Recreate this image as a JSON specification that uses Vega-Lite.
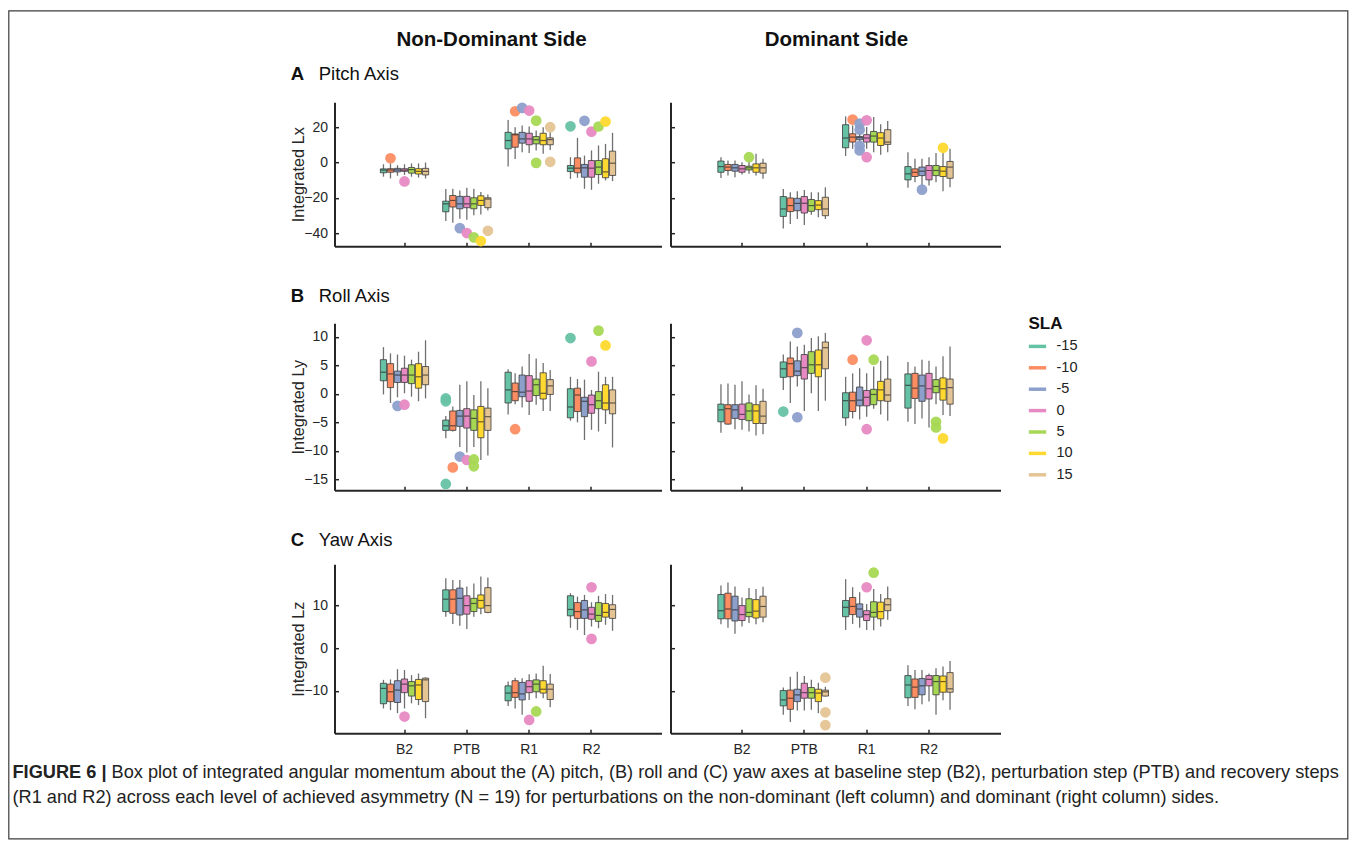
{
"$schema": "https://vega.github.io/schema/vega-lite/v6.json",
"padding": {"left": 7.5, "top": 9.5, "right": 0, "bottom": 0},
"background": "white",
"datasets": {
"box": [
{"a":"Lx","s":"ND","g":"B2","sla":-15,"lo":-8,"q1":-5.8,"md":-4.3,"q3":-3.6,"hi":-1},
{"a":"Lx","s":"ND","g":"B2","sla":-10,"lo":-9,"q1":-5.5,"md":-4.2,"q3":-3.5,"hi":-0.5},
{"a":"Lx","s":"ND","g":"B2","sla":-5,"lo":-7.5,"q1":-5.3,"md":-4.2,"q3":-3.3,"hi":-1.5},
{"a":"Lx","s":"ND","g":"B2","sla":0,"lo":-7,"q1":-5,"md":-4.3,"q3":-3.5,"hi":-1},
{"a":"Lx","s":"ND","g":"B2","sla":5,"lo":-8,"q1":-6,"md":-4,"q3":-2.8,"hi":-0.5},
{"a":"Lx","s":"ND","g":"B2","sla":10,"lo":-8.5,"q1":-6.5,"md":-5,"q3":-3.5,"hi":-0.5},
{"a":"Lx","s":"ND","g":"B2","sla":15,"lo":-9,"q1":-7,"md":-5,"q3":-3.3,"hi":0},
{"a":"Lx","s":"ND","g":"PTB","sla":-15,"lo":-33,"q1":-27.8,"md":-23.3,"q3":-21.8,"hi":-15},
{"a":"Lx","s":"ND","g":"PTB","sla":-10,"lo":-34,"q1":-25.1,"md":-21.4,"q3":-18.6,"hi":-14.8},
{"a":"Lx","s":"ND","g":"PTB","sla":-5,"lo":-31.7,"q1":-26.1,"md":-23.3,"q3":-19.1,"hi":-15.8},
{"a":"Lx","s":"ND","g":"PTB","sla":0,"lo":-32.3,"q1":-25.5,"md":-23.3,"q3":-19.1,"hi":-14.3},
{"a":"Lx","s":"ND","g":"PTB","sla":5,"lo":-29.8,"q1":-26.1,"md":-23.3,"q3":-19.9,"hi":-14.8},
{"a":"Lx","s":"ND","g":"PTB","sla":10,"lo":-29.3,"q1":-24.2,"md":-21.4,"q3":-18.8,"hi":-16.7},
{"a":"Lx","s":"ND","g":"PTB","sla":15,"lo":-27,"q1":-25.5,"md":-20.6,"q3":-19.9,"hi":-18},
{"a":"Lx","s":"ND","g":"R1","sla":-15,"lo":-2.3,"q1":7.7,"md":12.4,"q3":17,"hi":24},
{"a":"Lx","s":"ND","g":"R1","sla":-10,"lo":2,"q1":8.6,"md":15.6,"q3":16.1,"hi":19.9},
{"a":"Lx","s":"ND","g":"R1","sla":-5,"lo":5.8,"q1":10.9,"md":13.3,"q3":17,"hi":20.8},
{"a":"Lx","s":"ND","g":"R1","sla":0,"lo":5.3,"q1":10,"md":13.3,"q3":16.5,"hi":20.3},
{"a":"Lx","s":"ND","g":"R1","sla":5,"lo":6.8,"q1":10.5,"md":12.8,"q3":14.6,"hi":18},
{"a":"Lx","s":"ND","g":"R1","sla":10,"lo":4.9,"q1":10,"md":12.4,"q3":16.5,"hi":19.9},
{"a":"Lx","s":"ND","g":"R1","sla":15,"lo":7.1,"q1":10,"md":12.9,"q3":13.9,"hi":17},
{"a":"Lx","s":"ND","g":"R2","sla":-15,"lo":-9.2,"q1":-5.1,"md":-3.2,"q3":-1.7,"hi":3},
{"a":"Lx","s":"ND","g":"R2","sla":-10,"lo":-8.6,"q1":-5.8,"md":-3.2,"q3":2.6,"hi":13.9},
{"a":"Lx","s":"ND","g":"R2","sla":-5,"lo":-14.8,"q1":-8.3,"md":-3,"q3":-1.1,"hi":3.9},
{"a":"Lx","s":"ND","g":"R2","sla":0,"lo":-15.4,"q1":-8.3,"md":-3.2,"q3":1.1,"hi":6.8},
{"a":"Lx","s":"ND","g":"R2","sla":5,"lo":-12,"q1":-6.8,"md":-2.6,"q3":1.1,"hi":9.6},
{"a":"Lx","s":"ND","g":"R2","sla":10,"lo":-10.1,"q1":-8.6,"md":-5.3,"q3":2.1,"hi":10.5},
{"a":"Lx","s":"ND","g":"R2","sla":15,"lo":-10.5,"q1":-7.3,"md":-0.4,"q3":6.4,"hi":16.7},
{"a":"Lx","s":"D","g":"B2","sla":-15,"lo":-8.7,"q1":-5.5,"md":-2.3,"q3":0.8,"hi":3},
{"a":"Lx","s":"D","g":"B2","sla":-10,"lo":-7.4,"q1":-4.5,"md":-2.6,"q3":-1.1,"hi":1.1},
{"a":"Lx","s":"D","g":"B2","sla":-5,"lo":-8.3,"q1":-4.9,"md":-3,"q3":-1.1,"hi":1.1},
{"a":"Lx","s":"D","g":"B2","sla":0,"lo":-6.8,"q1":-5.5,"md":-3.6,"q3":-1.7,"hi":0.2},
{"a":"Lx","s":"D","g":"B2","sla":5,"lo":-6.4,"q1":-4.2,"md":-3,"q3":-2.1,"hi":0.6},
{"a":"Lx","s":"D","g":"B2","sla":10,"lo":-7.4,"q1":-5.5,"md":-3,"q3":-0.8,"hi":4.9},
{"a":"Lx","s":"D","g":"B2","sla":15,"lo":-9.2,"q1":-6,"md":-3,"q3":-0.4,"hi":2.1},
{"a":"Lx","s":"D","g":"PTB","sla":-15,"lo":-37.2,"q1":-30.4,"md":-26.2,"q3":-19.2,"hi":-14.9},
{"a":"Lx","s":"D","g":"PTB","sla":-10,"lo":-34.7,"q1":-27.7,"md":-24.3,"q3":-20,"hi":-16.8},
{"a":"Lx","s":"D","g":"PTB","sla":-5,"lo":-31.9,"q1":-27.2,"md":-23,"q3":-20.2,"hi":-16.2},
{"a":"Lx","s":"D","g":"PTB","sla":0,"lo":-35.3,"q1":-28.5,"md":-23,"q3":-19.2,"hi":-15.5},
{"a":"Lx","s":"D","g":"PTB","sla":5,"lo":-29.4,"q1":-27.5,"md":-24.3,"q3":-20.9,"hi":-16.8},
{"a":"Lx","s":"D","g":"PTB","sla":10,"lo":-30.9,"q1":-26.6,"md":-24,"q3":-21.5,"hi":-16.8},
{"a":"Lx","s":"D","g":"PTB","sla":15,"lo":-31.9,"q1":-30,"md":-26.2,"q3":-19.6,"hi":-14},
{"a":"Lx","s":"D","g":"R1","sla":-15,"lo":3.6,"q1":8.3,"md":13.8,"q3":21.3,"hi":26},
{"a":"Lx","s":"D","g":"R1","sla":-10,"lo":7.7,"q1":11.5,"md":14.3,"q3":16.2,"hi":20.9},
{"a":"Lx","s":"D","g":"R1","sla":-5,"lo":10.6,"q1":12.8,"md":14,"q3":14.7,"hi":17.2},
{"a":"Lx","s":"D","g":"R1","sla":0,"lo":7.7,"q1":11.5,"md":13.8,"q3":15.7,"hi":20},
{"a":"Lx","s":"D","g":"R1","sla":5,"lo":5.8,"q1":11.5,"md":14.9,"q3":17.5,"hi":25.7},
{"a":"Lx","s":"D","g":"R1","sla":10,"lo":4.3,"q1":9.6,"md":13.8,"q3":16.8,"hi":21.5},
{"a":"Lx","s":"D","g":"R1","sla":15,"lo":5.8,"q1":10.2,"md":11.5,"q3":18.5,"hi":23.4},
{"a":"Lx","s":"D","g":"R2","sla":-15,"lo":-14.3,"q1":-9.8,"md":-6.4,"q3":-2.3,"hi":5.8},
{"a":"Lx","s":"D","g":"R2","sla":-10,"lo":-11.1,"q1":-7.9,"md":-5.5,"q3":-3.6,"hi":2.1},
{"a":"Lx","s":"D","g":"R2","sla":-5,"lo":-13.6,"q1":-7.4,"md":-4.9,"q3":-2.6,"hi":2.1},
{"a":"Lx","s":"D","g":"R2","sla":0,"lo":-13,"q1":-9.8,"md":-4.5,"q3":-1.7,"hi":3},
{"a":"Lx","s":"D","g":"R2","sla":5,"lo":-11.1,"q1":-7.4,"md":-4.5,"q3":-1.7,"hi":5.3},
{"a":"Lx","s":"D","g":"R2","sla":10,"lo":-16.2,"q1":-7.9,"md":-4.9,"q3":-2.3,"hi":5.3},
{"a":"Lx","s":"D","g":"R2","sla":15,"lo":-14,"q1":-8.9,"md":-2.6,"q3":0.6,"hi":7.7},
{"a":"Ly","s":"ND","g":"B2","sla":-15,"lo":-0.1,"q1":2.3,"md":3.8,"q3":6,"hi":8.2},
{"a":"Ly","s":"ND","g":"B2","sla":-10,"lo":-1.6,"q1":1.1,"md":3.5,"q3":5.3,"hi":7.1},
{"a":"Ly","s":"ND","g":"B2","sla":-5,"lo":-0.6,"q1":2,"md":3.3,"q3":4,"hi":6.9},
{"a":"Ly","s":"ND","g":"B2","sla":0,"lo":0.1,"q1":2,"md":3.3,"q3":4.5,"hi":6.7},
{"a":"Ly","s":"ND","g":"B2","sla":5,"lo":-0.5,"q1":1.8,"md":3.3,"q3":5.1,"hi":6},
{"a":"Ly","s":"ND","g":"B2","sla":10,"lo":-1.3,"q1":1,"md":3,"q3":5.3,"hi":7.4},
{"a":"Ly","s":"ND","g":"B2","sla":15,"lo":-0.8,"q1":1.6,"md":3.3,"q3":4.8,"hi":9.4},
{"a":"Ly","s":"ND","g":"PTB","sla":-15,"lo":-7.8,"q1":-6.4,"md":-5.6,"q3":-4.6,"hi":-3.9},
{"a":"Ly","s":"ND","g":"PTB","sla":-10,"lo":-6.6,"q1":-6.4,"md":-5.6,"q3":-3,"hi":-2.2},
{"a":"Ly","s":"ND","g":"PTB","sla":-5,"lo":-9.3,"q1":-5.7,"md":-3.9,"q3":-2.9,"hi":1.6},
{"a":"Ly","s":"ND","g":"PTB","sla":0,"lo":-10.3,"q1":-6,"md":-3.9,"q3":-2.6,"hi":2.2},
{"a":"Ly","s":"ND","g":"PTB","sla":5,"lo":-9.3,"q1":-6.4,"md":-4.3,"q3":-2.8,"hi":-0.2},
{"a":"Ly","s":"ND","g":"PTB","sla":10,"lo":-11.6,"q1":-7.7,"md":-4.9,"q3":-2.2,"hi":2.2},
{"a":"Ly","s":"ND","g":"PTB","sla":15,"lo":-10.8,"q1":-6.4,"md":-4,"q3":-2.5,"hi":1},
{"a":"Ly","s":"ND","g":"R1","sla":-15,"lo":-3.6,"q1":-1.6,"md":0.7,"q3":3.8,"hi":4.3},
{"a":"Ly","s":"ND","g":"R1","sla":-10,"lo":-1.8,"q1":-1.2,"md":0.4,"q3":1.9,"hi":3.6},
{"a":"Ly","s":"ND","g":"R1","sla":-5,"lo":-2.4,"q1":-0.5,"md":0.3,"q3":3.3,"hi":4.8},
{"a":"Ly","s":"ND","g":"R1","sla":0,"lo":-3.7,"q1":-1.3,"md":0.5,"q3":3.2,"hi":7},
{"a":"Ly","s":"ND","g":"R1","sla":5,"lo":-1.9,"q1":-0.3,"md":1.6,"q3":2.6,"hi":6.2},
{"a":"Ly","s":"ND","g":"R1","sla":10,"lo":-3,"q1":-0.9,"md":0.1,"q3":3.7,"hi":5.4},
{"a":"Ly","s":"ND","g":"R1","sla":15,"lo":-3,"q1":-0.1,"md":1.4,"q3":2.5,"hi":4.2},
{"a":"Ly","s":"ND","g":"R2","sla":-15,"lo":-4.7,"q1":-4.2,"md":-2.3,"q3":0.9,"hi":3},
{"a":"Ly","s":"ND","g":"R2","sla":-10,"lo":-5,"q1":-3.1,"md":-0.2,"q3":1,"hi":2.6},
{"a":"Ly","s":"ND","g":"R2","sla":-5,"lo":-8.1,"q1":-4,"md":-1.3,"q3":-0.6,"hi":2.5},
{"a":"Ly","s":"ND","g":"R2","sla":0,"lo":-6.3,"q1":-3.4,"md":-1.9,"q3":-0.2,"hi":0.7},
{"a":"Ly","s":"ND","g":"R2","sla":5,"lo":-6.6,"q1":-2.6,"md":-1.2,"q3":0.4,"hi":3.9},
{"a":"Ly","s":"ND","g":"R2","sla":10,"lo":-5.3,"q1":-2.8,"md":-1.6,"q3":1.6,"hi":3},
{"a":"Ly","s":"ND","g":"R2","sla":15,"lo":-9.4,"q1":-3.5,"md":-1.6,"q3":0.7,"hi":3},
{"a":"Ly","s":"D","g":"B2","sla":-15,"lo":-6.8,"q1":-4.9,"md":-2.8,"q3":-1.8,"hi":1.7},
{"a":"Ly","s":"D","g":"B2","sla":-10,"lo":-5.4,"q1":-5.3,"md":-2.6,"q3":-1.9,"hi":1.8},
{"a":"Ly","s":"D","g":"B2","sla":-5,"lo":-6.2,"q1":-4.3,"md":-2.8,"q3":-1.9,"hi":1.6},
{"a":"Ly","s":"D","g":"B2","sla":0,"lo":-6.3,"q1":-4.5,"md":-3.6,"q3":-1.8,"hi":2.2},
{"a":"Ly","s":"D","g":"B2","sla":5,"lo":-6.6,"q1":-4.7,"md":-3,"q3":-1.6,"hi":-0.1},
{"a":"Ly","s":"D","g":"B2","sla":10,"lo":-7.3,"q1":-5.2,"md":-3,"q3":-1.9,"hi":1.5},
{"a":"Ly","s":"D","g":"B2","sla":15,"lo":-7.1,"q1":-5.2,"md":-3.9,"q3":-1.3,"hi":0.9},
{"a":"Ly","s":"D","g":"PTB","sla":-15,"lo":0.7,"q1":2.9,"md":4.4,"q3":5.6,"hi":6.9},
{"a":"Ly","s":"D","g":"PTB","sla":-10,"lo":-1.6,"q1":3,"md":5.3,"q3":6.3,"hi":9.2},
{"a":"Ly","s":"D","g":"PTB","sla":-5,"lo":1.3,"q1":3.2,"md":4,"q3":5.8,"hi":8.3},
{"a":"Ly","s":"D","g":"PTB","sla":0,"lo":-3,"q1":2.6,"md":4.6,"q3":6.9,"hi":8.6},
{"a":"Ly","s":"D","g":"PTB","sla":5,"lo":0.1,"q1":3.6,"md":5.1,"q3":7.4,"hi":9.8},
{"a":"Ly","s":"D","g":"PTB","sla":10,"lo":-3,"q1":3,"md":5.1,"q3":7.7,"hi":10.1},
{"a":"Ly","s":"D","g":"PTB","sla":15,"lo":-1.2,"q1":4.4,"md":8.1,"q3":9.1,"hi":10.7},
{"a":"Ly","s":"D","g":"R1","sla":-15,"lo":-5.6,"q1":-4.2,"md":-1.2,"q3":0.2,"hi":3},
{"a":"Ly","s":"D","g":"R1","sla":-10,"lo":-4.3,"q1":-3.1,"md":-1.2,"q3":0.3,"hi":3.6},
{"a":"Ly","s":"D","g":"R1","sla":-5,"lo":-4.5,"q1":-2.1,"md":-1.1,"q3":1.2,"hi":4.5},
{"a":"Ly","s":"D","g":"R1","sla":0,"lo":-4,"q1":-2.1,"md":-0.6,"q3":0.6,"hi":3.6},
{"a":"Ly","s":"D","g":"R1","sla":5,"lo":-2.6,"q1":-1.9,"md":-0.1,"q3":0.8,"hi":4.8},
{"a":"Ly","s":"D","g":"R1","sla":10,"lo":-3.6,"q1":-1.2,"md":0.7,"q3":2.2,"hi":5.8},
{"a":"Ly","s":"D","g":"R1","sla":15,"lo":-4.7,"q1":-1.3,"md":-0.2,"q3":2.6,"hi":6.7},
{"a":"Ly","s":"D","g":"R2","sla":-15,"lo":-4.9,"q1":-2.5,"md":1.5,"q3":3.5,"hi":5.6},
{"a":"Ly","s":"D","g":"R2","sla":-10,"lo":-5.3,"q1":-0.8,"md":1,"q3":3.6,"hi":4.8},
{"a":"Ly","s":"D","g":"R2","sla":-5,"lo":-4.3,"q1":-1.3,"md":1.4,"q3":3.3,"hi":6},
{"a":"Ly","s":"D","g":"R2","sla":0,"lo":-5.9,"q1":-0.9,"md":0.9,"q3":3.6,"hi":5.8},
{"a":"Ly","s":"D","g":"R2","sla":5,"lo":-1.8,"q1":0.2,"md":1.3,"q3":2.5,"hi":4.8},
{"a":"Ly","s":"D","g":"R2","sla":10,"lo":-3.7,"q1":-1.1,"md":0.9,"q3":2.8,"hi":6.6},
{"a":"Ly","s":"D","g":"R2","sla":15,"lo":-3.9,"q1":-1.8,"md":1.1,"q3":2.6,"hi":8.3},
{"a":"Lz","s":"ND","g":"B2","sla":-15,"lo":-14.1,"q1":-13,"md":-9.4,"q3":-8.2,"hi":-7.4},
{"a":"Lz","s":"ND","g":"B2","sla":-10,"lo":-14.5,"q1":-12.5,"md":-10.2,"q3":-8.4,"hi":-7.3},
{"a":"Lz","s":"ND","g":"B2","sla":-5,"lo":-15.2,"q1":-12.7,"md":-9.8,"q3":-7.6,"hi":-4.9},
{"a":"Lz","s":"ND","g":"B2","sla":0,"lo":-14.1,"q1":-10.4,"md":-8.4,"q3":-7.2,"hi":-5.1},
{"a":"Lz","s":"ND","g":"B2","sla":5,"lo":-12.9,"q1":-11.2,"md":-8.8,"q3":-7.8,"hi":-6.3},
{"a":"Lz","s":"ND","g":"B2","sla":10,"lo":-13.3,"q1":-12,"md":-8.6,"q3":-7.3,"hi":-5.9},
{"a":"Lz","s":"ND","g":"B2","sla":15,"lo":-16.4,"q1":-12.5,"md":-7.4,"q3":-7,"hi":-6.8},
{"a":"Lz","s":"ND","g":"PTB","sla":-15,"lo":7.4,"q1":8.6,"md":11.5,"q3":13.7,"hi":16.4},
{"a":"Lz","s":"ND","g":"PTB","sla":-10,"lo":5.7,"q1":8.2,"md":11.5,"q3":13.7,"hi":16},
{"a":"Lz","s":"ND","g":"PTB","sla":-5,"lo":5.3,"q1":7.8,"md":11.7,"q3":14.1,"hi":16},
{"a":"Lz","s":"ND","g":"PTB","sla":0,"lo":4.5,"q1":8,"md":10,"q3":12.3,"hi":14.5},
{"a":"Lz","s":"ND","g":"PTB","sla":5,"lo":7.4,"q1":8.6,"md":10.5,"q3":11.7,"hi":15.2},
{"a":"Lz","s":"ND","g":"PTB","sla":10,"lo":8,"q1":9.4,"md":11.2,"q3":12.5,"hi":16.8},
{"a":"Lz","s":"ND","g":"PTB","sla":15,"lo":8.2,"q1":8.4,"md":10,"q3":14.2,"hi":16.6},
{"a":"Lz","s":"ND","g":"R1","sla":-15,"lo":-13.5,"q1":-12.3,"md":-10.5,"q3":-8.8,"hi":-7.8},
{"a":"Lz","s":"ND","g":"R1","sla":-10,"lo":-14.1,"q1":-11.5,"md":-10.4,"q3":-7.6,"hi":-6.9},
{"a":"Lz","s":"ND","g":"R1","sla":-5,"lo":-15.6,"q1":-12.1,"md":-10.7,"q3":-8,"hi":-7},
{"a":"Lz","s":"ND","g":"R1","sla":0,"lo":-12.1,"q1":-10.4,"md":-9,"q3":-7.6,"hi":-6.1},
{"a":"Lz","s":"ND","g":"R1","sla":5,"lo":-11.7,"q1":-10.2,"md":-8.4,"q3":-7.4,"hi":-5.9},
{"a":"Lz","s":"ND","g":"R1","sla":10,"lo":-11.7,"q1":-10.5,"md":-9.6,"q3":-7.6,"hi":-4.1},
{"a":"Lz","s":"ND","g":"R1","sla":15,"lo":-13.8,"q1":-12,"md":-9.6,"q3":-8.4,"hi":-6},
{"a":"Lz","s":"ND","g":"R2","sla":-15,"lo":4.8,"q1":7.6,"md":9.1,"q3":12.3,"hi":12.9},
{"a":"Lz","s":"ND","g":"R2","sla":-10,"lo":4.3,"q1":7,"md":8.6,"q3":10.7,"hi":12.1},
{"a":"Lz","s":"ND","g":"R2","sla":-5,"lo":3.1,"q1":7,"md":9,"q3":11.2,"hi":12.5},
{"a":"Lz","s":"ND","g":"R2","sla":0,"lo":5.1,"q1":6.8,"md":8,"q3":9.6,"hi":10.8},
{"a":"Lz","s":"ND","g":"R2","sla":5,"lo":4.7,"q1":6.3,"md":7.7,"q3":10.7,"hi":12.3},
{"a":"Lz","s":"ND","g":"R2","sla":10,"lo":5.5,"q1":7.3,"md":8.4,"q3":10.5,"hi":12.7},
{"a":"Lz","s":"ND","g":"R2","sla":15,"lo":4.1,"q1":7,"md":9.1,"q3":10.2,"hi":12.5},
{"a":"Lz","s":"D","g":"B2","sla":-15,"lo":5.6,"q1":6.9,"md":8.8,"q3":12.6,"hi":14.7},
{"a":"Lz","s":"D","g":"B2","sla":-10,"lo":4.8,"q1":6.9,"md":9.2,"q3":12.9,"hi":15.4},
{"a":"Lz","s":"D","g":"B2","sla":-5,"lo":3.4,"q1":6.4,"md":9,"q3":12.2,"hi":14.5},
{"a":"Lz","s":"D","g":"B2","sla":0,"lo":5.1,"q1":6.5,"md":7.9,"q3":10,"hi":11.9},
{"a":"Lz","s":"D","g":"B2","sla":5,"lo":5.9,"q1":7.4,"md":8.4,"q3":11.6,"hi":14.1},
{"a":"Lz","s":"D","g":"B2","sla":10,"lo":5.6,"q1":7.1,"md":8.7,"q3":11.4,"hi":13.9},
{"a":"Lz","s":"D","g":"B2","sla":15,"lo":6.1,"q1":7.3,"md":9.8,"q3":12.2,"hi":14.4},
{"a":"Lz","s":"D","g":"PTB","sla":-15,"lo":-15.6,"q1":-13.5,"md":-12.1,"q3":-9.9,"hi":-9.2},
{"a":"Lz","s":"D","g":"PTB","sla":-10,"lo":-17.3,"q1":-14.3,"md":-11.7,"q3":-9.8,"hi":-6.7},
{"a":"Lz","s":"D","g":"PTB","sla":-5,"lo":-14.6,"q1":-12.5,"md":-10.9,"q3":-9.6,"hi":-5.5},
{"a":"Lz","s":"D","g":"PTB","sla":0,"lo":-14.6,"q1":-11.7,"md":-10.4,"q3":-8.2,"hi":-6.5},
{"a":"Lz","s":"D","g":"PTB","sla":5,"lo":-14.4,"q1":-11.7,"md":-10.4,"q3":-9.2,"hi":-7.4},
{"a":"Lz","s":"D","g":"PTB","sla":10,"lo":-15.2,"q1":-12.5,"md":-10.5,"q3":-9.6,"hi":-8.1},
{"a":"Lz","s":"D","g":"PTB","sla":15,"lo":-11.3,"q1":-11.2,"md":-10.2,"q3":-9.8,"hi":-9},
{"a":"Lz","s":"D","g":"R1","sla":-15,"lo":4.3,"q1":7.4,"md":9.6,"q3":11.2,"hi":16.2},
{"a":"Lz","s":"D","g":"R1","sla":-10,"lo":5.7,"q1":7.9,"md":9.8,"q3":11.9,"hi":14.3},
{"a":"Lz","s":"D","g":"R1","sla":-5,"lo":4.8,"q1":7.3,"md":9.2,"q3":10.4,"hi":13.1},
{"a":"Lz","s":"D","g":"R1","sla":0,"lo":4.3,"q1":6.5,"md":7.9,"q3":8.8,"hi":10.4},
{"a":"Lz","s":"D","g":"R1","sla":5,"lo":4.2,"q1":7.3,"md":8.4,"q3":10.9,"hi":13.9},
{"a":"Lz","s":"D","g":"R1","sla":10,"lo":5.1,"q1":6.9,"md":8.6,"q3":10.8,"hi":12.7},
{"a":"Lz","s":"D","g":"R1","sla":15,"lo":6.7,"q1":8.8,"md":10.2,"q3":11.6,"hi":14.5},
{"a":"Lz","s":"D","g":"R2","sla":-15,"lo":-13.5,"q1":-11.6,"md":-8.6,"q3":-6.4,"hi":-4},
{"a":"Lz","s":"D","g":"R2","sla":-10,"lo":-14.3,"q1":-11.5,"md":-9.1,"q3":-7.2,"hi":-5.1},
{"a":"Lz","s":"D","g":"R2","sla":-5,"lo":-13.1,"q1":-10.9,"md":-8.8,"q3":-7.1,"hi":-5.1},
{"a":"Lz","s":"D","g":"R2","sla":0,"lo":-12.5,"q1":-8.8,"md":-7.3,"q3":-6.4,"hi":-5.9},
{"a":"Lz","s":"D","g":"R2","sla":5,"lo":-15.6,"q1":-10.9,"md":-7.8,"q3":-6.4,"hi":-4.7},
{"a":"Lz","s":"D","g":"R2","sla":10,"lo":-12.2,"q1":-10.3,"md":-7.8,"q3":-6.5,"hi":-4.3},
{"a":"Lz","s":"D","g":"R2","sla":15,"lo":-14.4,"q1":-10.3,"md":-9.5,"q3":-5.7,"hi":-3}
],
"out": [
{"a":"Lx","s":"ND","g":"B2","sla":-10,"v":2.4},
{"a":"Lx","s":"ND","g":"B2","sla":0,"v":-10.7},
{"a":"Lx","s":"ND","g":"PTB","sla":-5,"v":-37},
{"a":"Lx","s":"ND","g":"PTB","sla":0,"v":-39.8},
{"a":"Lx","s":"ND","g":"PTB","sla":5,"v":-42.2},
{"a":"Lx","s":"ND","g":"PTB","sla":10,"v":-44.3},
{"a":"Lx","s":"ND","g":"PTB","sla":15,"v":-38.5},
{"a":"Lx","s":"ND","g":"R1","sla":-10,"v":28.9},
{"a":"Lx","s":"ND","g":"R1","sla":-5,"v":30.8},
{"a":"Lx","s":"ND","g":"R1","sla":0,"v":29.3},
{"a":"Lx","s":"ND","g":"R1","sla":5,"v":23.6},
{"a":"Lx","s":"ND","g":"R1","sla":5,"v":-0.2},
{"a":"Lx","s":"ND","g":"R1","sla":15,"v":19.9},
{"a":"Lx","s":"ND","g":"R1","sla":15,"v":0.4},
{"a":"Lx","s":"ND","g":"R2","sla":-15,"v":20.4},
{"a":"Lx","s":"ND","g":"R2","sla":-5,"v":23.5},
{"a":"Lx","s":"ND","g":"R2","sla":0,"v":17.4},
{"a":"Lx","s":"ND","g":"R2","sla":5,"v":20.3},
{"a":"Lx","s":"ND","g":"R2","sla":10,"v":23.1},
{"a":"Lx","s":"D","g":"B2","sla":5,"v":3},
{"a":"Lx","s":"D","g":"R1","sla":-10,"v":24.2},
{"a":"Lx","s":"D","g":"R1","sla":-5,"v":21.9},
{"a":"Lx","s":"D","g":"R1","sla":-5,"v":18.5},
{"a":"Lx","s":"D","g":"R1","sla":-5,"v":9.4},
{"a":"Lx","s":"D","g":"R1","sla":-5,"v":6.8},
{"a":"Lx","s":"D","g":"R1","sla":0,"v":23.8},
{"a":"Lx","s":"D","g":"R1","sla":0,"v":3},
{"a":"Lx","s":"D","g":"R2","sla":-5,"v":-15.3},
{"a":"Lx","s":"D","g":"R2","sla":10,"v":8.3},
{"a":"Ly","s":"ND","g":"B2","sla":-5,"v":-2.1},
{"a":"Ly","s":"ND","g":"B2","sla":0,"v":-1.9},
{"a":"Ly","s":"ND","g":"PTB","sla":-15,"v":-0.8},
{"a":"Ly","s":"ND","g":"PTB","sla":-15,"v":-1.3},
{"a":"Ly","s":"ND","g":"PTB","sla":-15,"v":-15.8},
{"a":"Ly","s":"ND","g":"PTB","sla":-10,"v":-12.9},
{"a":"Ly","s":"ND","g":"PTB","sla":-5,"v":-11},
{"a":"Ly","s":"ND","g":"PTB","sla":0,"v":-11.6},
{"a":"Ly","s":"ND","g":"PTB","sla":5,"v":-11.5},
{"a":"Ly","s":"ND","g":"PTB","sla":5,"v":-12.7},
{"a":"Ly","s":"ND","g":"R1","sla":-10,"v":-6.2},
{"a":"Ly","s":"ND","g":"R2","sla":-15,"v":9.8},
{"a":"Ly","s":"ND","g":"R2","sla":0,"v":5.7},
{"a":"Ly","s":"ND","g":"R2","sla":5,"v":11.1},
{"a":"Ly","s":"ND","g":"R2","sla":10,"v":8.5},
{"a":"Ly","s":"D","g":"PTB","sla":-15,"v":-3.1},
{"a":"Ly","s":"D","g":"PTB","sla":-5,"v":10.7},
{"a":"Ly","s":"D","g":"PTB","sla":-5,"v":-4.1},
{"a":"Ly","s":"D","g":"R1","sla":-10,"v":6},
{"a":"Ly","s":"D","g":"R1","sla":0,"v":9.4},
{"a":"Ly","s":"D","g":"R1","sla":0,"v":-6.2},
{"a":"Ly","s":"D","g":"R1","sla":5,"v":6},
{"a":"Ly","s":"D","g":"R2","sla":5,"v":-4.9},
{"a":"Ly","s":"D","g":"R2","sla":5,"v":-5.9},
{"a":"Ly","s":"D","g":"R2","sla":10,"v":-7.8},
{"a":"Lz","s":"ND","g":"B2","sla":0,"v":-16},
{"a":"Lz","s":"ND","g":"R1","sla":0,"v":-16.8},
{"a":"Lz","s":"ND","g":"R1","sla":5,"v":-14.8},
{"a":"Lz","s":"ND","g":"R2","sla":0,"v":14.3},
{"a":"Lz","s":"ND","g":"R2","sla":0,"v":2.2},
{"a":"Lz","s":"D","g":"PTB","sla":15,"v":-6.9},
{"a":"Lz","s":"D","g":"PTB","sla":15,"v":-15},
{"a":"Lz","s":"D","g":"PTB","sla":15,"v":-18},
{"a":"Lz","s":"D","g":"R1","sla":0,"v":14.3},
{"a":"Lz","s":"D","g":"R1","sla":5,"v":17.7}
]
},
"columns": 2,
"align": "none",
"spacing": {"row": -809.3, "column": -1058},
"concat": [
{
"width": 1339, "height": 828,
"view": {"stroke": "#3c3c3c", "strokeWidth": 1.2},
"data": {"values": []},
"mark": "point",
"title": {"text": "Box plot of integrated angular momentum about the (A) pitch, (B) roll and (C) yaw axes at baseline step (B2), perturbation step (PTB) and recovery steps", "orient": "bottom", "anchor": "start", "frame": "group", "dx": 103, "offset": -74.7, "fontSize": 18.2, "fontWeight": "normal", "color": "#222", "baseline": "top"}
},
{"width": 1, "height": 828, "view": {"stroke": null}, "data": {"values": []}, "mark": "point"},
{"width": 1339, "height": 1, "view": {"stroke": null}, "data": {"values": []}, "mark": "point",
 "title": {"text": "FIGURE 6 |", "subtitle": "(R1 and R2) across each level of achieved asymmetry (N = 19) for perturbations on the non-dominant (left column) and dominant (right column) sides.", "orient": "bottom", "anchor": "start", "frame": "group", "dx": 4, "offset": 732.6, "fontSize": 18.2, "fontWeight": "bold", "color": "#222", "baseline": "top", "subtitleFont": "Liberation Sans", "subtitleFontSize": 18.2, "subtitleFontWeight": "normal", "subtitleColor": "#222", "subtitlePadding": 6.8}},
{
"spacing": 39,
"vconcat": [
{
"title": {"text": "A", "anchor": "start", "frame": "bounds", "fontSize": 18.5, "fontWeight": "bold", "color": "#111", "offset": 0, "baseline": "alphabetic", "dy": 68.1},
"vconcat": [{
"title": {"text": "Pitch Axis", "anchor": "start", "frame": "bounds", "fontSize": 18.5, "fontWeight": "normal", "color": "#111", "offset": 0, "baseline": "alphabetic", "dx": 28, "dy": 68.1},
"spacing": 8,
"hconcat": [
{
"width": 327, "height": 144,
"title": {"text": "Non-Dominant Side", "fontSize": 20.5, "fontWeight": "bold", "color": "#111", "anchor": "middle", "frame": "group", "offset": 35.5, "baseline": "alphabetic", "dx": -6.5},
"encoding": {
"x": {"field": "g", "type": "nominal", "title": null, "scale": {"domain": ["B2","PTB","R1","R2"], "paddingInner": 0, "paddingOuter": 0.623}, "axis": {"labels": false}},
"xOffset": {"field": "sla", "type": "nominal", "scale": {"domain": [-15,-10,-5,0,5,10,15], "paddingInner": 0.11, "paddingOuter": 1.58}}
},
"layer": [
{"data": {"name": "box"}, "transform": [{"filter": "datum.a=='Lx'&&datum.s=='ND'"}], "mark": {"type": "rule", "color": "#707070", "strokeWidth": 1.3},
 "encoding": {"y": {"field": "lo", "type": "quantitative", "title": "Integrated Lx", "scale": {"domain": [-47.2,34], "nice": false, "zero": false}, "axis": {"values": [-40,-20,0,20]}}, "y2": {"field": "hi"}}},
{"data": {"name": "box"}, "transform": [{"filter": "datum.a=='Lx'&&datum.s=='ND'"}], "mark": {"type": "bar"},
 "encoding": {"y": {"field": "q1", "type": "quantitative", "title": "Integrated Lx", "scale": {"domain": [-47.2,34], "nice": false, "zero": false}, "axis": {"values": [-40,-20,0,20]}}, "y2": {"field": "q3"},
 "color": {"field": "sla", "type": "nominal", "title": "SLA", "scale": {"domain": [-15,-10,-5,0,5,10,15], "range": ["#66c2a5","#fc8d62","#8da0cb","#e78ac3","#a6d854","#ffd92f","#e5c494"]}, "legend": {"orient": "none", "legendX": 1020, "legendY": 305.4}}}},
{"data": {"name": "box"}, "transform": [{"filter": "datum.a=='Lx'&&datum.s=='ND'"}], "mark": {"type": "bar", "filled": false, "stroke": "#3a3a3a", "strokeWidth": 0.8},
 "encoding": {"y": {"field": "q1", "type": "quantitative", "title": "Integrated Lx", "scale": {"domain": [-47.2,34], "nice": false, "zero": false}, "axis": {"values": [-40,-20,0,20]}}, "y2": {"field": "q3"}}},
{"data": {"name": "box"}, "transform": [{"filter": "datum.a=='Lx'&&datum.s=='ND'"}], "mark": {"type": "tick", "color": "#262626", "thickness": 1.2, "size": 5.5},
 "encoding": {"y": {"field": "md", "type": "quantitative", "title": "Integrated Lx", "scale": {"domain": [-47.2,34], "nice": false, "zero": false}, "axis": {"values": [-40,-20,0,20]}}}},
{"data": {"name": "out"}, "transform": [{"filter": "datum.a=='Lx'&&datum.s=='ND'"}], "mark": {"type": "circle", "size": 115, "opacity": 0.95},
 "encoding": {"y": {"field": "v", "type": "quantitative", "title": "Integrated Lx", "scale": {"domain": [-47.2,34], "nice": false, "zero": false}, "axis": {"values": [-40,-20,0,20]}},
 "color": {"field": "sla", "type": "nominal", "title": "SLA", "scale": {"domain": [-15,-10,-5,0,5,10,15], "range": ["#66c2a5","#fc8d62","#8da0cb","#e78ac3","#a6d854","#ffd92f","#e5c494"]}, "legend": {"orient": "none", "legendX": 1020, "legendY": 305.4}}}}
]
},
{
"width": 330, "height": 144,
"title": {"text": "Dominant Side", "fontSize": 20.5, "fontWeight": "bold", "color": "#111", "anchor": "middle", "frame": "group", "offset": 35.5, "baseline": "alphabetic", "dx": 1},
"encoding": {
"x": {"field": "g", "type": "nominal", "title": null, "scale": {"domain": ["B2","PTB","R1","R2"], "paddingInner": 0, "paddingOuter": 0.647}, "axis": {"labels": false}},
"xOffset": {"field": "sla", "type": "nominal", "scale": {"domain": [-15,-10,-5,0,5,10,15], "paddingInner": 0.11, "paddingOuter": 1.58}}
},
"layer": [
{"data": {"name": "box"}, "transform": [{"filter": "datum.a=='Lx'&&datum.s=='D'"}], "mark": {"type": "rule", "color": "#707070", "strokeWidth": 1.3},
 "encoding": {"y": {"field": "lo", "type": "quantitative", "title": null, "scale": {"domain": [-47.2,34], "nice": false, "zero": false}, "axis": {"values": [-40,-20,0,20], "labels": false}}, "y2": {"field": "hi"}}},
{"data": {"name": "box"}, "transform": [{"filter": "datum.a=='Lx'&&datum.s=='D'"}], "mark": {"type": "bar"},
 "encoding": {"y": {"field": "q1", "type": "quantitative", "title": null, "scale": {"domain": [-47.2,34], "nice": false, "zero": false}, "axis": {"values": [-40,-20,0,20], "labels": false}}, "y2": {"field": "q3"},
 "color": {"field": "sla", "type": "nominal", "title": "SLA", "scale": {"domain": [-15,-10,-5,0,5,10,15], "range": ["#66c2a5","#fc8d62","#8da0cb","#e78ac3","#a6d854","#ffd92f","#e5c494"]}, "legend": {"orient": "none", "legendX": 1020, "legendY": 305.4}}}},
{"data": {"name": "box"}, "transform": [{"filter": "datum.a=='Lx'&&datum.s=='D'"}], "mark": {"type": "bar", "filled": false, "stroke": "#3a3a3a", "strokeWidth": 0.8},
 "encoding": {"y": {"field": "q1", "type": "quantitative", "title": null, "scale": {"domain": [-47.2,34], "nice": false, "zero": false}, "axis": {"values": [-40,-20,0,20], "labels": false}}, "y2": {"field": "q3"}}},
{"data": {"name": "box"}, "transform": [{"filter": "datum.a=='Lx'&&datum.s=='D'"}], "mark": {"type": "tick", "color": "#262626", "thickness": 1.2, "size": 5.5},
 "encoding": {"y": {"field": "md", "type": "quantitative", "title": null, "scale": {"domain": [-47.2,34], "nice": false, "zero": false}, "axis": {"values": [-40,-20,0,20], "labels": false}}}},
{"data": {"name": "out"}, "transform": [{"filter": "datum.a=='Lx'&&datum.s=='D'"}], "mark": {"type": "circle", "size": 115, "opacity": 0.95},
 "encoding": {"y": {"field": "v", "type": "quantitative", "title": null, "scale": {"domain": [-47.2,34], "nice": false, "zero": false}, "axis": {"values": [-40,-20,0,20], "labels": false}},
 "color": {"field": "sla", "type": "nominal", "title": "SLA", "scale": {"domain": [-15,-10,-5,0,5,10,15], "range": ["#66c2a5","#fc8d62","#8da0cb","#e78ac3","#a6d854","#ffd92f","#e5c494"]}, "legend": {"orient": "none", "legendX": 1020, "legendY": 305.4}}}}
]
}
]
}]
},
{
"title": {"text": "B", "anchor": "start", "frame": "bounds", "fontSize": 18.5, "fontWeight": "bold", "color": "#111", "offset": 0, "baseline": "alphabetic", "dy": 33.5},
"vconcat": [{
"title": {"text": "Roll Axis", "anchor": "start", "frame": "bounds", "fontSize": 18.5, "fontWeight": "normal", "color": "#111", "offset": 3, "baseline": "alphabetic", "dx": 28},
"spacing": 8,
"hconcat": [
{
"width": 327, "height": 167,
"encoding": {
"x": {"field": "g", "type": "nominal", "title": null, "scale": {"domain": ["B2","PTB","R1","R2"], "paddingInner": 0, "paddingOuter": 0.623}, "axis": {"labels": false}},
"xOffset": {"field": "sla", "type": "nominal", "scale": {"domain": [-15,-10,-5,0,5,10,15], "paddingInner": 0.11, "paddingOuter": 1.58}}
},
"layer": [
{"data": {"name": "box"}, "transform": [{"filter": "datum.a=='Ly'&&datum.s=='ND'"}], "mark": {"type": "rule", "color": "#707070", "strokeWidth": 1.3},
 "encoding": {"y": {"field": "lo", "type": "quantitative", "title": "Integrated Ly", "scale": {"domain": [-16.9,12.4], "nice": false, "zero": false}, "axis": {"values": [-15,-10,-5,0,5,10]}}, "y2": {"field": "hi"}}},
{"data": {"name": "box"}, "transform": [{"filter": "datum.a=='Ly'&&datum.s=='ND'"}], "mark": {"type": "bar"},
 "encoding": {"y": {"field": "q1", "type": "quantitative", "title": "Integrated Ly", "scale": {"domain": [-16.9,12.4], "nice": false, "zero": false}, "axis": {"values": [-15,-10,-5,0,5,10]}}, "y2": {"field": "q3"},
 "color": {"field": "sla", "type": "nominal", "title": "SLA", "scale": {"domain": [-15,-10,-5,0,5,10,15], "range": ["#66c2a5","#fc8d62","#8da0cb","#e78ac3","#a6d854","#ffd92f","#e5c494"]}, "legend": {"orient": "none", "legendX": 1020, "legendY": 305.4}}}},
{"data": {"name": "box"}, "transform": [{"filter": "datum.a=='Ly'&&datum.s=='ND'"}], "mark": {"type": "bar", "filled": false, "stroke": "#3a3a3a", "strokeWidth": 0.8},
 "encoding": {"y": {"field": "q1", "type": "quantitative", "title": "Integrated Ly", "scale": {"domain": [-16.9,12.4], "nice": false, "zero": false}, "axis": {"values": [-15,-10,-5,0,5,10]}}, "y2": {"field": "q3"}}},
{"data": {"name": "box"}, "transform": [{"filter": "datum.a=='Ly'&&datum.s=='ND'"}], "mark": {"type": "tick", "color": "#262626", "thickness": 1.2, "size": 5.5},
 "encoding": {"y": {"field": "md", "type": "quantitative", "title": "Integrated Ly", "scale": {"domain": [-16.9,12.4], "nice": false, "zero": false}, "axis": {"values": [-15,-10,-5,0,5,10]}}}},
{"data": {"name": "out"}, "transform": [{"filter": "datum.a=='Ly'&&datum.s=='ND'"}], "mark": {"type": "circle", "size": 115, "opacity": 0.95},
 "encoding": {"y": {"field": "v", "type": "quantitative", "title": "Integrated Ly", "scale": {"domain": [-16.9,12.4], "nice": false, "zero": false}, "axis": {"values": [-15,-10,-5,0,5,10]}},
 "color": {"field": "sla", "type": "nominal", "title": "SLA", "scale": {"domain": [-15,-10,-5,0,5,10,15], "range": ["#66c2a5","#fc8d62","#8da0cb","#e78ac3","#a6d854","#ffd92f","#e5c494"]}, "legend": {"orient": "none", "legendX": 1020, "legendY": 305.4}}}}
]
},
{
"width": 330, "height": 167,
"encoding": {
"x": {"field": "g", "type": "nominal", "title": null, "scale": {"domain": ["B2","PTB","R1","R2"], "paddingInner": 0, "paddingOuter": 0.647}, "axis": {"labels": false}},
"xOffset": {"field": "sla", "type": "nominal", "scale": {"domain": [-15,-10,-5,0,5,10,15], "paddingInner": 0.11, "paddingOuter": 1.58}}
},
"layer": [
{"data": {"name": "box"}, "transform": [{"filter": "datum.a=='Ly'&&datum.s=='D'"}], "mark": {"type": "rule", "color": "#707070", "strokeWidth": 1.3},
 "encoding": {"y": {"field": "lo", "type": "quantitative", "title": null, "scale": {"domain": [-16.9,12.4], "nice": false, "zero": false}, "axis": {"values": [-15,-10,-5,0,5,10], "labels": false}}, "y2": {"field": "hi"}}},
{"data": {"name": "box"}, "transform": [{"filter": "datum.a=='Ly'&&datum.s=='D'"}], "mark": {"type": "bar"},
 "encoding": {"y": {"field": "q1", "type": "quantitative", "title": null, "scale": {"domain": [-16.9,12.4], "nice": false, "zero": false}, "axis": {"values": [-15,-10,-5,0,5,10], "labels": false}}, "y2": {"field": "q3"},
 "color": {"field": "sla", "type": "nominal", "title": "SLA", "scale": {"domain": [-15,-10,-5,0,5,10,15], "range": ["#66c2a5","#fc8d62","#8da0cb","#e78ac3","#a6d854","#ffd92f","#e5c494"]}, "legend": {"orient": "none", "legendX": 1020, "legendY": 305.4}}}},
{"data": {"name": "box"}, "transform": [{"filter": "datum.a=='Ly'&&datum.s=='D'"}], "mark": {"type": "bar", "filled": false, "stroke": "#3a3a3a", "strokeWidth": 0.8},
 "encoding": {"y": {"field": "q1", "type": "quantitative", "title": null, "scale": {"domain": [-16.9,12.4], "nice": false, "zero": false}, "axis": {"values": [-15,-10,-5,0,5,10], "labels": false}}, "y2": {"field": "q3"}}},
{"data": {"name": "box"}, "transform": [{"filter": "datum.a=='Ly'&&datum.s=='D'"}], "mark": {"type": "tick", "color": "#262626", "thickness": 1.2, "size": 5.5},
 "encoding": {"y": {"field": "md", "type": "quantitative", "title": null, "scale": {"domain": [-16.9,12.4], "nice": false, "zero": false}, "axis": {"values": [-15,-10,-5,0,5,10], "labels": false}}}},
{"data": {"name": "out"}, "transform": [{"filter": "datum.a=='Ly'&&datum.s=='D'"}], "mark": {"type": "circle", "size": 115, "opacity": 0.95},
 "encoding": {"y": {"field": "v", "type": "quantitative", "title": null, "scale": {"domain": [-16.9,12.4], "nice": false, "zero": false}, "axis": {"values": [-15,-10,-5,0,5,10], "labels": false}},
 "color": {"field": "sla", "type": "nominal", "title": "SLA", "scale": {"domain": [-15,-10,-5,0,5,10,15], "range": ["#66c2a5","#fc8d62","#8da0cb","#e78ac3","#a6d854","#ffd92f","#e5c494"]}, "legend": {"orient": "none", "legendX": 1020, "legendY": 305.4}}}}
]
}
]
}]
},
{
"title": {"text": "C", "anchor": "start", "frame": "bounds", "fontSize": 18.5, "fontWeight": "bold", "color": "#111", "offset": 0, "baseline": "alphabetic", "dy": 33.5},
"vconcat": [{
"title": {"text": "Yaw Axis", "anchor": "start", "frame": "bounds", "fontSize": 18.5, "fontWeight": "normal", "color": "#111", "offset": 0.2, "baseline": "alphabetic", "dx": 28},
"spacing": 8,
"hconcat": [
{
"width": 327, "height": 169,
"encoding": {
"x": {"field": "g", "type": "nominal", "title": null, "scale": {"domain": ["B2","PTB","R1","R2"], "paddingInner": 0, "paddingOuter": 0.623}, "axis": {"labels": true, "labelAngle": 0, "labelPadding": 13}},
"xOffset": {"field": "sla", "type": "nominal", "scale": {"domain": [-15,-10,-5,0,5,10,15], "paddingInner": 0.11, "paddingOuter": 1.58}}
},
"layer": [
{"data": {"name": "box"}, "transform": [{"filter": "datum.a=='Lz'&&datum.s=='ND'"}], "mark": {"type": "rule", "color": "#707070", "strokeWidth": 1.3},
 "encoding": {"y": {"field": "lo", "type": "quantitative", "title": "Integrated Lz", "scale": {"domain": [-19.9,19.7], "nice": false, "zero": false}, "axis": {"values": [-10,0,10]}}, "y2": {"field": "hi"}}},
{"data": {"name": "box"}, "transform": [{"filter": "datum.a=='Lz'&&datum.s=='ND'"}], "mark": {"type": "bar"},
 "encoding": {"y": {"field": "q1", "type": "quantitative", "title": "Integrated Lz", "scale": {"domain": [-19.9,19.7], "nice": false, "zero": false}, "axis": {"values": [-10,0,10]}}, "y2": {"field": "q3"},
 "color": {"field": "sla", "type": "nominal", "title": "SLA", "scale": {"domain": [-15,-10,-5,0,5,10,15], "range": ["#66c2a5","#fc8d62","#8da0cb","#e78ac3","#a6d854","#ffd92f","#e5c494"]}, "legend": {"orient": "none", "legendX": 1020, "legendY": 305.4}}}},
{"data": {"name": "box"}, "transform": [{"filter": "datum.a=='Lz'&&datum.s=='ND'"}], "mark": {"type": "bar", "filled": false, "stroke": "#3a3a3a", "strokeWidth": 0.8},
 "encoding": {"y": {"field": "q1", "type": "quantitative", "title": "Integrated Lz", "scale": {"domain": [-19.9,19.7], "nice": false, "zero": false}, "axis": {"values": [-10,0,10]}}, "y2": {"field": "q3"}}},
{"data": {"name": "box"}, "transform": [{"filter": "datum.a=='Lz'&&datum.s=='ND'"}], "mark": {"type": "tick", "color": "#262626", "thickness": 1.2, "size": 5.5},
 "encoding": {"y": {"field": "md", "type": "quantitative", "title": "Integrated Lz", "scale": {"domain": [-19.9,19.7], "nice": false, "zero": false}, "axis": {"values": [-10,0,10]}}}},
{"data": {"name": "out"}, "transform": [{"filter": "datum.a=='Lz'&&datum.s=='ND'"}], "mark": {"type": "circle", "size": 115, "opacity": 0.95},
 "encoding": {"y": {"field": "v", "type": "quantitative", "title": "Integrated Lz", "scale": {"domain": [-19.9,19.7], "nice": false, "zero": false}, "axis": {"values": [-10,0,10]}},
 "color": {"field": "sla", "type": "nominal", "title": "SLA", "scale": {"domain": [-15,-10,-5,0,5,10,15], "range": ["#66c2a5","#fc8d62","#8da0cb","#e78ac3","#a6d854","#ffd92f","#e5c494"]}, "legend": {"orient": "none", "legendX": 1020, "legendY": 305.4}}}}
]
},
{
"width": 330, "height": 169,
"encoding": {
"x": {"field": "g", "type": "nominal", "title": null, "scale": {"domain": ["B2","PTB","R1","R2"], "paddingInner": 0, "paddingOuter": 0.647}, "axis": {"labels": true, "labelAngle": 0, "labelPadding": 13}},
"xOffset": {"field": "sla", "type": "nominal", "scale": {"domain": [-15,-10,-5,0,5,10,15], "paddingInner": 0.11, "paddingOuter": 1.58}}
},
"layer": [
{"data": {"name": "box"}, "transform": [{"filter": "datum.a=='Lz'&&datum.s=='D'"}], "mark": {"type": "rule", "color": "#707070", "strokeWidth": 1.3},
 "encoding": {"y": {"field": "lo", "type": "quantitative", "title": null, "scale": {"domain": [-19.9,19.7], "nice": false, "zero": false}, "axis": {"values": [-10,0,10], "labels": false}}, "y2": {"field": "hi"}}},
{"data": {"name": "box"}, "transform": [{"filter": "datum.a=='Lz'&&datum.s=='D'"}], "mark": {"type": "bar"},
 "encoding": {"y": {"field": "q1", "type": "quantitative", "title": null, "scale": {"domain": [-19.9,19.7], "nice": false, "zero": false}, "axis": {"values": [-10,0,10], "labels": false}}, "y2": {"field": "q3"},
 "color": {"field": "sla", "type": "nominal", "title": "SLA", "scale": {"domain": [-15,-10,-5,0,5,10,15], "range": ["#66c2a5","#fc8d62","#8da0cb","#e78ac3","#a6d854","#ffd92f","#e5c494"]}, "legend": {"orient": "none", "legendX": 1020, "legendY": 305.4}}}},
{"data": {"name": "box"}, "transform": [{"filter": "datum.a=='Lz'&&datum.s=='D'"}], "mark": {"type": "bar", "filled": false, "stroke": "#3a3a3a", "strokeWidth": 0.8},
 "encoding": {"y": {"field": "q1", "type": "quantitative", "title": null, "scale": {"domain": [-19.9,19.7], "nice": false, "zero": false}, "axis": {"values": [-10,0,10], "labels": false}}, "y2": {"field": "q3"}}},
{"data": {"name": "box"}, "transform": [{"filter": "datum.a=='Lz'&&datum.s=='D'"}], "mark": {"type": "tick", "color": "#262626", "thickness": 1.2, "size": 5.5},
 "encoding": {"y": {"field": "md", "type": "quantitative", "title": null, "scale": {"domain": [-19.9,19.7], "nice": false, "zero": false}, "axis": {"values": [-10,0,10], "labels": false}}}},
{"data": {"name": "out"}, "transform": [{"filter": "datum.a=='Lz'&&datum.s=='D'"}], "mark": {"type": "circle", "size": 115, "opacity": 0.95},
 "encoding": {"y": {"field": "v", "type": "quantitative", "title": null, "scale": {"domain": [-19.9,19.7], "nice": false, "zero": false}, "axis": {"values": [-10,0,10], "labels": false}},
 "color": {"field": "sla", "type": "nominal", "title": "SLA", "scale": {"domain": [-15,-10,-5,0,5,10,15], "range": ["#66c2a5","#fc8d62","#8da0cb","#e78ac3","#a6d854","#ffd92f","#e5c494"]}, "legend": {"orient": "none", "legendX": 1020, "legendY": 305.4}}}}
]
}
]
}]
}
]
}
],
"config": {
"font": "Liberation Sans",
"view": {"stroke": null},
"axis": {"grid": false, "domainColor": "#262626", "domainWidth": 2, "tickColor": "#262626", "tickWidth": 1.5, "tickSize": -4, "labelColor": "#262626", "labelFontSize": 14, "labelPadding": 11, "titleColor": "#262626", "titleFontSize": 16.3, "titleFontWeight": "normal", "titlePadding": -3},
"legend": {"symbolType": "M-1,-0.2H1V0.2H-1Z", "symbolSize": 300, "symbolStrokeWidth": 0, "symbolOpacity": 1, "labelFontSize": 14.5, "labelColor": "#222", "labelOffset": 10, "titleFontSize": 17, "titleFontWeight": "bold", "titleColor": "#111", "titlePadding": 4.5, "rowPadding": 5.4, "padding": 0},
"title": {"font": "Liberation Sans"}
}
}
